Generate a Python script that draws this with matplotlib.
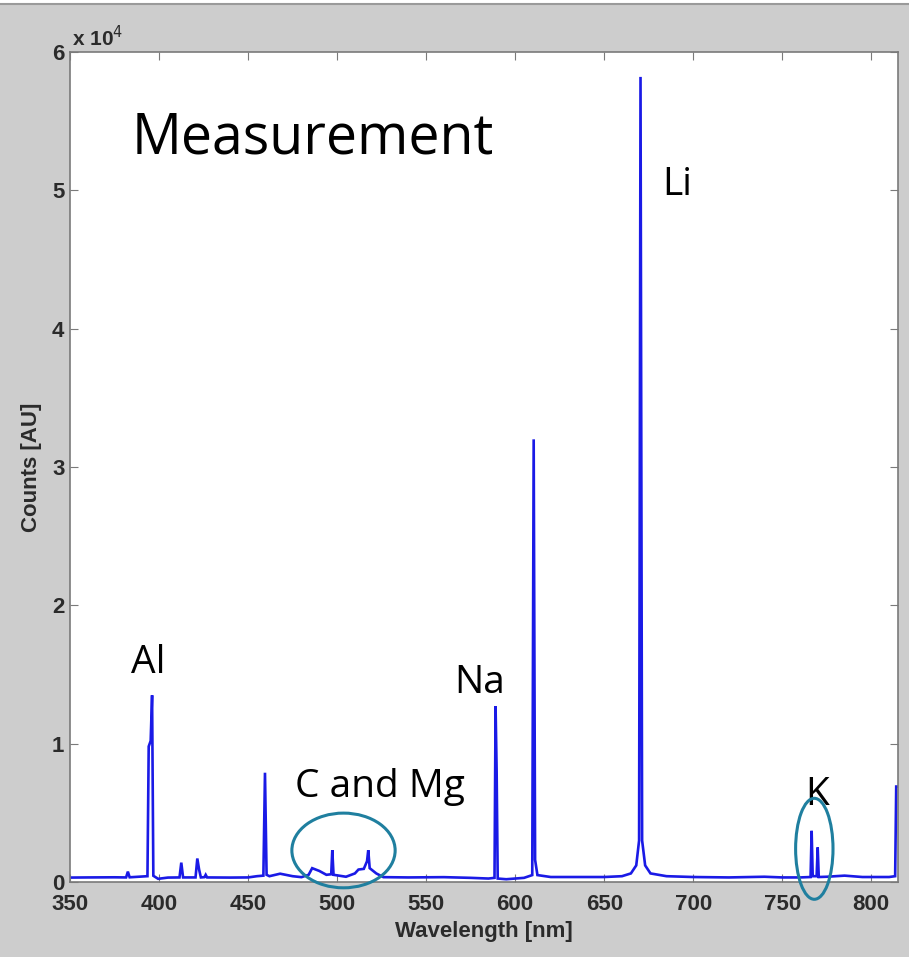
import matplotlib
matplotlib.use("Agg")
import matplotlib.pyplot as plt
from matplotlib.patches import Ellipse
from matplotlib.ticker import FuncFormatter

# Spectrum (wavelength [nm], counts [AU])
wavelength = [350, 360, 375, 381.5, 382.5, 383.5, 393.5, 394.2, 395.3, 396.1, 396.8, 399.5,
              405, 411.5, 412.5, 413.5, 420.5, 421.5, 422.5, 423.5, 425.5, 426.2, 427.0,
              440, 450, 455, 458.6, 459.5, 460.4, 462, 468, 475, 480, 484, 486, 490, 494,
              496.7, 497.3, 498.0, 505, 510, 512, 515, 516.8, 517.5, 518.3, 522, 526,
              540, 560, 575, 585, 588.4, 589.0, 589.6, 590.2, 595, 605, 609.6, 610.4, 611.2,
              612.5, 620, 650, 660, 665, 668, 669.6, 670.4, 671.3, 673, 676, 685, 700,
              720, 740, 750, 760, 765.9, 766.5, 767.1, 769.3, 769.9, 770.5, 775, 785, 795,
              810, 813.4, 814.0, 815]
counts = [320, 330, 340, 330, 750, 340, 420, 9800, 10200, 13500, 450, 230,
          320, 330, 1400, 330, 330, 1700, 900, 330, 350, 520, 330,
          320, 330, 420, 460, 7900, 520, 420, 600, 420, 350, 520, 1000, 800, 520,
          560, 2300, 520, 380, 620, 900, 950, 1500, 2300, 1000, 620, 350,
          330, 350, 300, 250, 300, 12700, 8000, 250, 200, 300, 500, 32000, 1600,
          500, 360, 360, 420, 620, 1200, 3000, 58200, 3000, 1200, 620, 420, 360,
          330, 380, 330, 330, 360, 3700, 420, 420, 2500, 360, 380, 460, 360,
          360, 420, 6900, 6900]

xticks = [350, 400, 450, 500, 550, 600, 650, 700, 750, 800]
yticks = [0, 10000, 20000, 30000, 40000, 50000, 60000]

element_labels = ["Al", "C and Mg", "Na", "Li", "K"]
label_x = [393.8, 524, 580, 691, 769.4]
label_y = [15800, 6900, 14400, 50400, 6300]

# ellipses: (center wavelength, center counts, width nm, height counts)
ellipse_cx = [503.6, 768.0]
ellipse_cy = [2280, 2400]
ellipse_w = [58, 21]
ellipse_h = [5400, 7300]

bg = "#cdcdcd"
fig = plt.figure(figsize=(9.09, 9.57), dpi=100, facecolor=bg)
ax = fig.add_axes([70 / 909, 75 / 957, 828 / 909, 830 / 957])
ax.set_facecolor("white")

ax.plot(wavelength, counts, color="#1a1ae6", lw=1.9, solid_joinstyle="miter")

ax.set_xlim(350, 815)
ax.set_ylim(0, 60000)
ax.set_xticks(xticks)
ax.set_yticks(yticks)
ax.yaxis.set_major_formatter(FuncFormatter(lambda v, p: f"{v / 1e4:g}"))
ax.tick_params(direction="in", top=True, right=True, length=6, width=0.8,
               colors="#7a7a7a", labelcolor="#2b2b2b", labelsize=16, pad=4)
ax.tick_params(axis="x", pad=9)
for lab in ax.get_xticklabels() + ax.get_yticklabels():
    lab.set_fontweight("bold")
    lab.set_family(["Liberation Sans", "DejaVu Sans"])
for s in ax.spines.values():
    s.set_color("#7a7a7a")
    s.set_linewidth(1.2)

ax.set_xlabel("Wavelength [nm]", fontsize=16, fontweight="bold", color="#2b2b2b",
              family=["Liberation Sans", "DejaVu Sans"], labelpad=4)
ax.set_ylabel("Counts [AU]", fontsize=16, fontweight="bold", color="#2b2b2b",
              family=["Liberation Sans", "DejaVu Sans"], labelpad=7)

fig.text(72 / 909, 1 - 38 / 957, r"x 10$^{4}$", fontsize=15, fontweight="bold",
         color="#2b2b2b", family=["Liberation Sans", "DejaVu Sans"], va="center")

ann_font = ["Open Sans", "Lato", "DejaVu Sans"]
ax.text(0.074, 0.895, "Measurement", transform=ax.transAxes, fontsize=40,
        family=ann_font, color="black", va="center", ha="left")
for t, x, y in zip(element_labels, label_x, label_y):
    ax.text(x, y, t, fontsize=28, family=ann_font, color="black", ha="center", va="center")

for cx, cy, w, h in zip(ellipse_cx, ellipse_cy, ellipse_w, ellipse_h):
    ax.add_patch(Ellipse((cx, cy), w, h, fill=False, edgecolor="#1f7f9f", lw=2.2,
                         clip_on=False, zorder=5))

# top frame strip
fig.patches.append(plt.Rectangle((0, 1 - 3 / 957), 1, 3 / 957, transform=fig.transFigure,
                                 facecolor="white", edgecolor="none"))
fig.lines.append(plt.Line2D([0, 1], [1 - 4 / 957, 1 - 4 / 957], transform=fig.transFigure,
                            color="#9a9a9a", lw=1.5))

fig.savefig("out.png", dpi=100, facecolor=bg)
